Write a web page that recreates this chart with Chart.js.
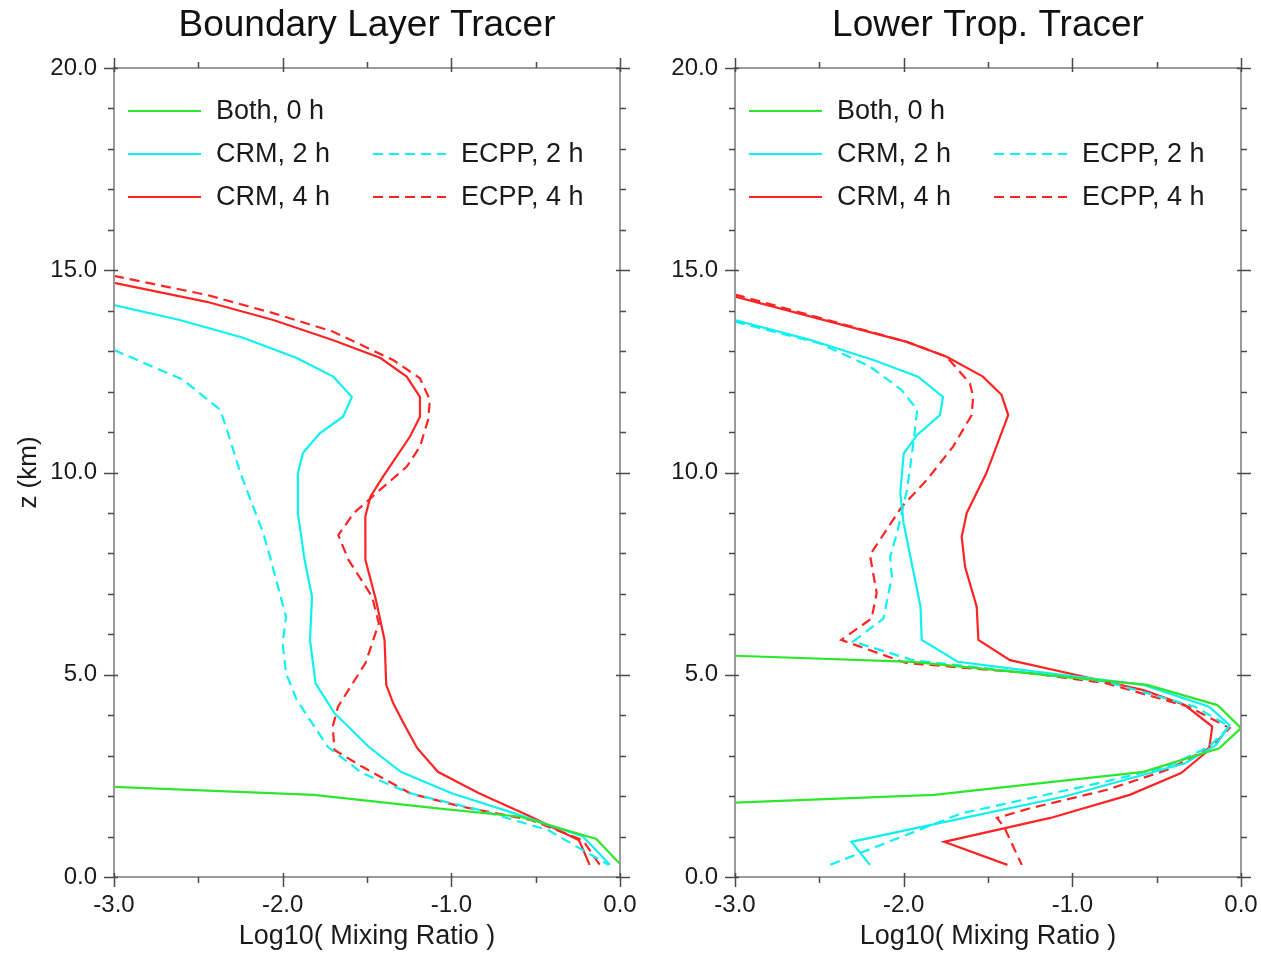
<!DOCTYPE html>
<html>
<head>
<meta charset="utf-8">
<script src="https://cdn.jsdelivr.net/npm/chart.js@4.4.0/dist/chart.umd.min.js"></script>
<style>
  html, body { margin:0; padding:0; background:#fff; }
  #wrap { position:relative; width:1261px; height:956px; }
  canvas { position:absolute; top:0; }
  #blCanvas { left:0; }
  #ltCanvas { left:630px; }
</style>
</head>
<body>
<div id="wrap">
  <canvas id="blCanvas" width="655" height="956"></canvas>
  <canvas id="ltCanvas" width="631" height="956"></canvas>
</div>
<script>
// ===== Data (x = log10 mixing ratio, z = height in km) =====
// Boundary Layer Tracer
const blBothZ = [2.23, 2.03, 1.68, 1.49, 0.94, 0.32];
const blBothX = [-3.0, -1.815, -1.04, -0.59, -0.14, 0.0];

const blCrm2Z = [14.14, 13.77, 13.33, 12.83, 12.37, 11.87, 11.38, 10.97, 10.48, 9.98, 9.0, 7.84, 6.93, 5.86, 4.79, 4.05, 3.22, 2.60, 2.07, 1.58, 1.0, 0.30];
const blCrm2X = [-3.0, -2.61, -2.235, -1.917, -1.70, -1.59, -1.642, -1.78, -1.88, -1.91, -1.91, -1.87, -1.826, -1.838, -1.805, -1.693, -1.49, -1.30, -0.998, -0.63, -0.22, -0.06];

const blEcpp2Z = [13.03, 12.29, 11.55, 11.05, 9.98, 8.50, 7.84, 6.43, 5.78, 5.04, 4.38, 3.22, 2.57, 2.07, 1.66, 1.16, 0.30];
const blEcpp2X = [-3.0, -2.59, -2.37, -2.33, -2.25, -2.115, -2.07, -1.98, -2.0, -1.98, -1.917, -1.733, -1.53, -1.245, -0.836, -0.427, -0.068];

const blCrm4Z = [14.69, 14.22, 13.77, 13.27, 12.83, 12.37, 11.87, 11.38, 10.89, 9.90, 9.40, 8.91, 8.41, 7.84, 6.85, 5.86, 4.75, 4.30, 3.81, 3.19, 2.60, 2.07, 1.49, 0.91, 0.30];
const blCrm4X = [-3.0, -2.45, -2.056, -1.70, -1.42, -1.265, -1.186, -1.186, -1.245, -1.405, -1.48, -1.51, -1.51, -1.509, -1.447, -1.396, -1.386, -1.345, -1.284, -1.203, -1.08, -0.836, -0.528, -0.243, -0.18];

const blEcpp4Z = [14.86, 14.39, 13.94, 13.48, 12.78, 12.33, 11.79, 11.30, 10.64, 10.14, 9.57, 8.99, 8.45, 7.84, 6.93, 6.27, 5.29, 4.21, 3.72, 3.14, 2.73, 2.07, 1.74, 1.41, 0.91, 0.30];
const blEcpp4X = [-3.0, -2.45, -2.056, -1.70, -1.345, -1.186, -1.127, -1.138, -1.186, -1.265, -1.423, -1.58, -1.67, -1.61, -1.47, -1.43, -1.509, -1.672, -1.703, -1.693, -1.53, -1.245, -0.94, -0.528, -0.22, -0.12];

// Lower Trop. Tracer
const ltBothZ = [5.47, 5.32, 4.75, 4.25, 3.68, 3.18, 2.60, 2.03, 1.84];
const ltBothX = [-3.0, -1.945, -0.556, -0.14, 0.0, -0.129, -0.578, -1.82, -3.0];

const ltCrm2Z = [13.77, 13.28, 12.78, 12.37, 11.87, 11.42, 10.93, 10.47, 9.49, 8.74, 7.51, 6.68, 5.86, 5.32, 4.99, 4.75, 4.21, 3.76, 3.26, 2.81, 1.99, 0.87, 0.30];
const ltCrm2X = [-3.0, -2.555, -2.18, -1.915, -1.767, -1.785, -1.92, -2.0, -2.02, -2.0, -1.94, -1.90, -1.893, -1.68, -1.05, -0.578, -0.19, -0.068, -0.149, -0.332, -1.045, -2.31, -2.20];

const ltEcpp2Z = [13.73, 13.19, 12.62, 12.04, 11.55, 10.80, 9.57, 8.50, 7.92, 7.42, 6.39, 5.82, 5.36, 4.83, 4.21, 3.72, 3.22, 2.73, 2.32, 1.57, 0.30];
const ltEcpp2X = [-3.0, -2.496, -2.20, -2.012, -1.92, -1.94, -1.98, -2.04, -2.08, -2.07, -2.12, -2.30, -1.945, -0.80, -0.272, -0.068, -0.19, -0.436, -0.844, -1.66, -2.437];

const ltCrm4Z = [14.35, 13.23, 12.86, 12.37, 11.92, 11.42, 9.98, 9.0, 8.41, 7.67, 6.68, 5.86, 5.36, 4.87, 4.62, 4.25, 3.72, 3.14, 2.57, 2.03, 1.46, 0.87, 0.30];
const ltCrm4X = [-3.0, -1.982, -1.745, -1.53, -1.42, -1.38, -1.51, -1.626, -1.656, -1.636, -1.567, -1.557, -1.37, -0.844, -0.578, -0.333, -0.17, -0.19, -0.355, -0.66, -1.13, -1.76, -1.385];

const ltEcpp4Z = [14.40, 13.23, 12.86, 12.2, 11.87, 11.42, 10.64, 9.81, 9.15, 7.96, 7.02, 6.39, 5.86, 5.29, 5.04, 4.79, 4.21, 3.68, 3.22, 2.65, 2.15, 1.70, 1.46, 1.24, 0.30];
const ltEcpp4X = [-3.0, -1.98, -1.745, -1.607, -1.588, -1.597, -1.707, -1.864, -2.012, -2.2, -2.16, -2.19, -2.37, -1.986, -1.25, -0.80, -0.31, -0.068, -0.172, -0.436, -0.80, -1.25, -1.447, -1.405, -1.30];

const seriesLabels = ["Both, 0 h", "CRM, 2 h", "ECPP, 2 h", "CRM, 4 h", "ECPP, 4 h"];
const panelTitles = ["Boundary Layer Tracer", "Lower Trop. Tracer"];

// ===== Styles =====
const GREEN = "#2de62d", CYAN = "#10f0f0", RED = "#ff2424";
const DASH = [10, 6];
Chart.defaults.font.family = "'Liberation Sans', Arial, Helvetica, sans-serif";
Chart.defaults.color = "#1a1a1a";

function pts(xs, zs){ return xs.map((x, i) => ({x: x, y: zs[i]})); }

function makeDatasets(both, crm2, ecpp2, crm4, ecpp4){
  const base = {showLine:true, pointRadius:0, borderWidth:2.2, tension:0, fill:false};
  return [
    {...base, label:seriesLabels[0], data:both,  borderColor:GREEN},
    {...base, label:seriesLabels[1], data:crm2,  borderColor:CYAN},
    {...base, label:seriesLabels[2], data:ecpp2, borderColor:CYAN, borderDash:DASH},
    {...base, label:seriesLabels[3], data:crm4,  borderColor:RED},
    {...base, label:seriesLabels[4], data:ecpp4, borderColor:RED, borderDash:DASH}
  ];
}

// ===== Frame + NCL-style tick marks =====
const frameTicks = {
  id:"frameTicks",
  afterDatasetsDraw(chart){
    const {ctx, chartArea:a, scales} = chart;
    const xs = scales.x, ys = scales.y;
    ctx.save();
    ctx.strokeStyle = "#9a9a9a"; ctx.lineWidth = 2;
    ctx.strokeRect(a.left, a.top, a.right - a.left, a.bottom - a.top);
    ctx.strokeStyle = "#4a4a4a"; ctx.lineWidth = 1.5;
    ctx.beginPath();
    for(let v = -3; v <= 0.001; v += 0.5){
      const px = Math.round(xs.getPixelForValue(v)) + 0.5;
      const major = Math.abs(v - Math.round(v)) < 1e-6;
      const out = major ? 10 : 6, inn = major ? 4 : 0;
      ctx.moveTo(px, a.bottom + out); ctx.lineTo(px, a.bottom - inn);
      ctx.moveTo(px, a.top - out); ctx.lineTo(px, a.top + inn);
    }
    for(let v = 0; v <= 20; v += 1){
      const py = Math.round(ys.getPixelForValue(v)) + 0.5;
      const major = v % 5 === 0;
      const out = major ? 10 : 6, inn = major ? 4 : 0;
      ctx.moveTo(a.left - out, py); ctx.lineTo(a.left + inn, py);
      ctx.moveTo(a.right + out, py); ctx.lineTo(a.right - inn, py);
    }
    ctx.stroke();
    ctx.restore();
  }
};

// ===== Legend in two columns inside the plot =====
const legendSlots = [[0,0],[0,1],[1,1],[0,2],[1,2]];
const gridLegend = {
  id:"gridLegend",
  afterDatasetsDraw(chart){
    const {ctx, chartArea:a} = chart;
    ctx.save();
    ctx.font = "27px 'Liberation Sans', Arial, sans-serif";
    ctx.textBaseline = "middle";
    ctx.fillStyle = "#1a1a1a";
    chart.data.datasets.forEach((ds, i) => {
      const [col, row] = legendSlots[i];
      const x0 = a.left + (col ? 259 : 14), x1 = x0 + 73;
      const y = a.top + 43 * (row + 1);
      ctx.strokeStyle = ds.borderColor; ctx.lineWidth = 2.2;
      ctx.setLineDash(ds.borderDash || []);
      ctx.beginPath(); ctx.moveTo(x0, y); ctx.lineTo(x1, y); ctx.stroke();
      ctx.setLineDash([]);
      ctx.fillText(ds.label, x0 + 88, y + 1);
    });
    ctx.restore();
  }
};

function makeOptions(title, yTitle, yWidth, padRight){
  const fixH = h => s => { s.height = h; s.paddingLeft = 0; s.paddingRight = 0; };
  return {
    responsive:false, animation:false,
    layout:{padding:{left:0, right:padRight, top:0, bottom:0}},
    plugins:{legend:{display:false}, tooltip:{enabled:false}},
    scales:{
      x:{type:"linear", position:"bottom", min:-3, max:0,
        ticks:{stepSize:1, padding:14, color:"#1a1a1a", font:{size:24}, callback:v => Number(v).toFixed(1)},
        grid:{display:false, drawTicks:false}, border:{display:false},
        title:{display:true, text:"Log10( Mixing Ratio )", color:"#1a1a1a", font:{size:27}, padding:{top:0, bottom:3}},
        afterFit:fixH(79)},
      top:{type:"linear", position:"top", min:-3, max:0, display:true,
        ticks:{display:false}, grid:{display:false, drawTicks:false}, border:{display:false},
        title:{display:true, text:title, color:"#111", font:{size:37}, padding:{top:4, bottom:0}},
        afterFit:fixH(68)},
      y:{type:"linear", position:"left", min:0, max:20,
        ticks:{stepSize:5, padding:17, color:"#1a1a1a", font:{size:24}, callback:v => Number(v).toFixed(1)},
        grid:{display:false, drawTicks:false}, border:{display:false},
        title:{display:!!yTitle, text:yTitle, color:"#1a1a1a", font:{size:26}, padding:{top:13, bottom:0}},
        afterFit:s => { s.width = yWidth; s.paddingTop = 0; s.paddingBottom = 0; }}
    }
  };
}

new Chart(document.getElementById("blCanvas"), {
  type:"scatter",
  data:{datasets:makeDatasets(pts(blBothX, blBothZ), pts(blCrm2X, blCrm2Z), pts(blEcpp2X, blEcpp2Z), pts(blCrm4X, blCrm4Z), pts(blEcpp4X, blEcpp4Z))},
  options:makeOptions(panelTitles[0], "z (km)", 114, 35),
  plugins:[frameTicks, gridLegend]
});

new Chart(document.getElementById("ltCanvas"), {
  type:"scatter",
  data:{datasets:makeDatasets(pts(ltBothX, ltBothZ), pts(ltCrm2X, ltCrm2Z), pts(ltEcpp2X, ltEcpp2Z), pts(ltCrm4X, ltCrm4Z), pts(ltEcpp4X, ltEcpp4Z))},
  options:makeOptions(panelTitles[1], "", 105, 20),
  plugins:[frameTicks, gridLegend]
});
</script>
</body>
</html>
